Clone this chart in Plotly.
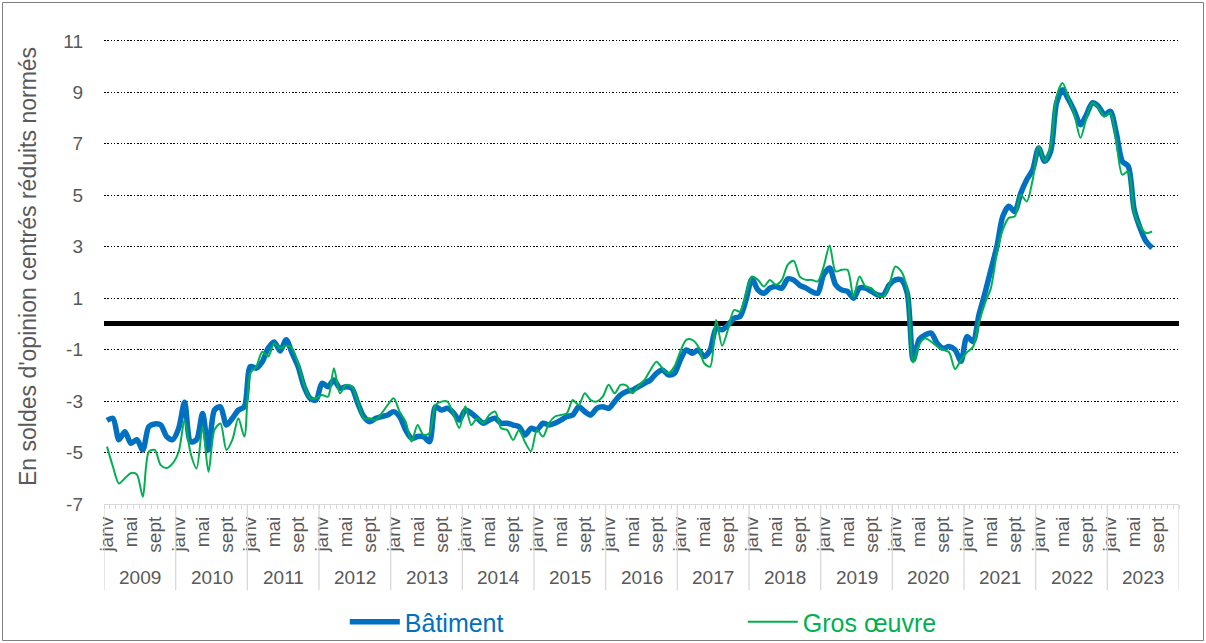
import plotly.graph_objects as go

years = list(range(2009, 2024))
month_ticks = ["janv", "mai", "sept"]
y_ticks = [-7, -5, -3, -1, 1, 3, 5, 7, 9, 11]
y_tick_labels = ["-7", "-5", "-3", "-1", "1", "3", "5", "7", "9", "11"]

# monthly values, janv 2009 -> août 2023
batiment = [
    -3.75, -3.67, -4.5, -4.19, -4.64, -4.5, -4.9, -4.0, -3.89, -3.93, -4.38, -4.5,
    -4.06, -3.05, -4.58, -4.5, -3.48, -4.9, -3.35, -3.22, -3.93, -3.67, -3.35, -3.22,
    -1.66, -1.72, -1.47, -0.94, -0.7, -1.05, -0.62, -1.14, -1.66, -2.44, -2.89, -2.96,
    -2.31, -2.44, -2.18, -2.5, -2.44, -2.5, -3.09, -3.6, -3.8, -3.67, -3.6, -3.54,
    -3.41, -3.6, -4.12, -4.45, -4.38, -4.38, -4.58, -3.22, -3.35, -3.28, -3.45, -3.74,
    -3.35, -3.47, -3.67, -3.86, -3.74, -3.67, -3.86, -3.86, -3.93, -4.0, -4.32, -4.06,
    -4.12, -3.86, -3.93, -3.86, -3.74, -3.6, -3.54, -3.22, -3.41, -3.54, -3.28, -3.22,
    -3.28, -3.02, -2.76, -2.63, -2.57, -2.44, -2.31, -2.18, -1.92, -1.79, -1.98, -1.92,
    -1.4, -1.01, -1.14, -1.01, -1.27, -1.01, -0.17, -0.23, -0.04, 0.22, 0.29, 0.93,
    1.75, 1.32, 1.19, 1.39, 1.45, 1.39, 1.75, 1.7, 1.5, 1.4, 1.26, 1.19,
    1.91, 2.17, 1.52, 1.32, 1.26, 1.0, 1.39, 1.39, 1.26, 1.13, 1.13, 1.52,
    1.71, 1.71, 1.19, -1.4, -0.6, -0.43, -0.36, -0.75, -0.95, -0.88, -1.01, -1.45,
    -0.49, -0.69, 0.35, 1.19, 2.1, 3.0, 4.18, 4.57, 4.37, 5.08, 5.6, 5.99,
    6.84, 6.32, 6.7, 8.59, 9.1, 8.72, 8.26, 7.74, 8.13, 8.59, 8.46, 8.13,
    8.26, 7.42, 6.32, 6.12, 4.44, 3.72, 3.2, 2.95,
]

gros_oeuvre = [
    -4.77, -5.55, -6.2, -6.0, -5.8, -5.85, -6.72, -4.97, -4.9, -5.49, -5.6, -5.42,
    -4.97, -3.74, -5.03, -5.62, -4.0, -5.75, -4.12, -3.87, -4.9, -4.5, -3.67, -4.38,
    -1.92, -1.66, -1.08, -1.27, -0.75, -0.95, -0.84, -0.95, -1.53, -2.37, -2.89, -2.89,
    -2.76, -2.83, -1.72, -2.7, -2.37, -2.44, -3.02, -3.67, -3.67, -3.74, -3.47, -3.15,
    -2.89, -3.41, -3.8, -4.58, -3.93, -4.32, -4.25, -3.15, -3.02, -3.02, -3.5, -4.05,
    -3.2, -3.93, -3.67, -3.86, -3.54, -3.41, -4.06, -4.12, -4.51, -4.12, -4.6, -4.95,
    -4.12, -4.38, -3.86, -3.6, -3.54, -3.47, -2.96, -3.15, -2.7, -2.96, -3.02, -2.83,
    -2.37, -2.7, -2.37, -2.4, -2.7, -2.4, -2.18, -1.79, -1.47, -1.72, -1.92, -1.66,
    -1.07, -0.62, -0.62, -0.88, -1.53, -1.66, 0.15, -0.85, -0.2, 0.54, 0.48, 1.19,
    1.84, 1.71, 1.45, 1.71, 1.52, 1.71, 2.3, 2.45, 1.84, 1.71, 1.71, 1.65,
    2.23, 3.05, 2.04, 2.1, 2.1, 1.06, 1.84, 1.45, 1.39, 1.13, 1.06, 1.52,
    2.23, 2.04, 1.32, -1.5, -0.8, -0.56, -0.69, -0.88, -1.01, -1.1, -1.75, -1.4,
    -1.1, -0.9, 0.05, 0.8, 1.39, 2.75, 3.66, 4.12, 4.18, 5.02, 4.76, 5.6,
    6.9, 6.32, 6.9, 8.84, 9.36, 8.78, 8.13, 7.23, 8.0, 8.59, 8.4, 8.07,
    8.2, 7.1, 5.8, 5.93, 4.31, 3.79, 3.53, 3.59,
]

n_months = 12 * len(years)
x_idx = list(range(len(batiment)))

FONT = "Liberation Sans, Arial, sans-serif"
GREY = "#595959"
AXIS_GREY = "#D9D9D9"

fig = go.Figure()
fig.add_trace(go.Scatter(
    x=x_idx, y=batiment, mode="lines",
    name="<span style='color:#0070C0'>Bâtiment</span>",
    line=dict(color="#0070C0", width=5.5, shape="spline", smoothing=0.8),
))
fig.add_trace(go.Scatter(
    x=x_idx, y=gros_oeuvre, mode="lines",
    name="<span style='color:#00B050'>Gros œuvre</span>",
    line=dict(color="#00B050", width=2, shape="spline", smoothing=0.8),
))

tickvals = [12 * k + m for k in range(len(years)) for m in (0, 4, 8)]
ticktext = month_ticks * len(years)

annotations = []
shapes = []
for k, yr in enumerate(years):
    annotations.append(dict(
        x=12 * k + 5.5, xref="x", y=-0.155, yref="paper",
        text=str(yr), showarrow=False, yanchor="middle",
        font=dict(family=FONT, size=19, color=GREY),
    ))
for k in range(len(years) + 1):
    shapes.append(dict(
        type="line", xref="x", yref="paper",
        x0=12 * k - 0.5, x1=12 * k - 0.5, y0=0, y1=-0.181,
        line=dict(color=AXIS_GREY, width=1.3),
    ))
# outer chart border
shapes.append(dict(
    type="rect", xref="paper", yref="paper",
    x0=-0.0944, x1=1.0228, y0=-0.2868, y1=1.0536,
    line=dict(color="#7F7F7F", width=1), layer="below",
))

annotations.append(dict(
    x=-0.0707, xref="paper", y=0.5, yref="paper",
    text="En soldes d'opinion centrés réduits normés", textangle=-90,
    showarrow=False, xanchor="center", yanchor="middle",
    font=dict(family=FONT, size=23, color=GREY),
))

fig.update_layout(
    width=1206, height=643,
    margin=dict(l=104, r=27, t=28, b=139, autoexpand=False),
    paper_bgcolor="white", plot_bgcolor="white",
    font=dict(family=FONT, color=GREY),
    showlegend=True,
    legend=dict(
        orientation="h", x=0.224, xanchor="left", y=-0.248, yanchor="middle",
        itemwidth=50, entrywidth=333, entrywidthmode="pixels",
        font=dict(family=FONT, size=25),
        bgcolor="rgba(0,0,0,0)",
    ),
    xaxis=dict(
        range=[-0.5, n_months - 0.5], automargin=False,
        tickmode="array", tickvals=tickvals, ticktext=ticktext,
        tickangle=-90, ticks="", ticklabelstandoff=4,
        tickfont=dict(family=FONT, size=19, color=GREY),
        showgrid=False, zeroline=False,
        showline=True, linecolor=AXIS_GREY, linewidth=1.3,
        minor=dict(
            tickmode="array", tickvals=[k - 0.5 for k in range(n_months + 1)],
            ticks="outside", ticklen=4, tickcolor=AXIS_GREY, tickwidth=1,
            showgrid=False,
        ),
    ),
    yaxis=dict(
        range=[-7, 11.5], automargin=False,
        tickmode="array", tickvals=y_ticks, ticktext=y_tick_labels,
        tickfont=dict(family=FONT, size=19, color=GREY),
        ticks="", ticklabelstandoff=20,
        showgrid=True, gridcolor="black", gridwidth=1.2, griddash="1.5px,1.8px",
        zeroline=True, zerolinecolor="black", zerolinewidth=5,
        showline=False,
    ),
    annotations=annotations,
    shapes=shapes,
)

fig.write_html(
    "out.html",
    config={"displayModeBar": False},
    post_script="document.body.style.margin='0px';",
)
